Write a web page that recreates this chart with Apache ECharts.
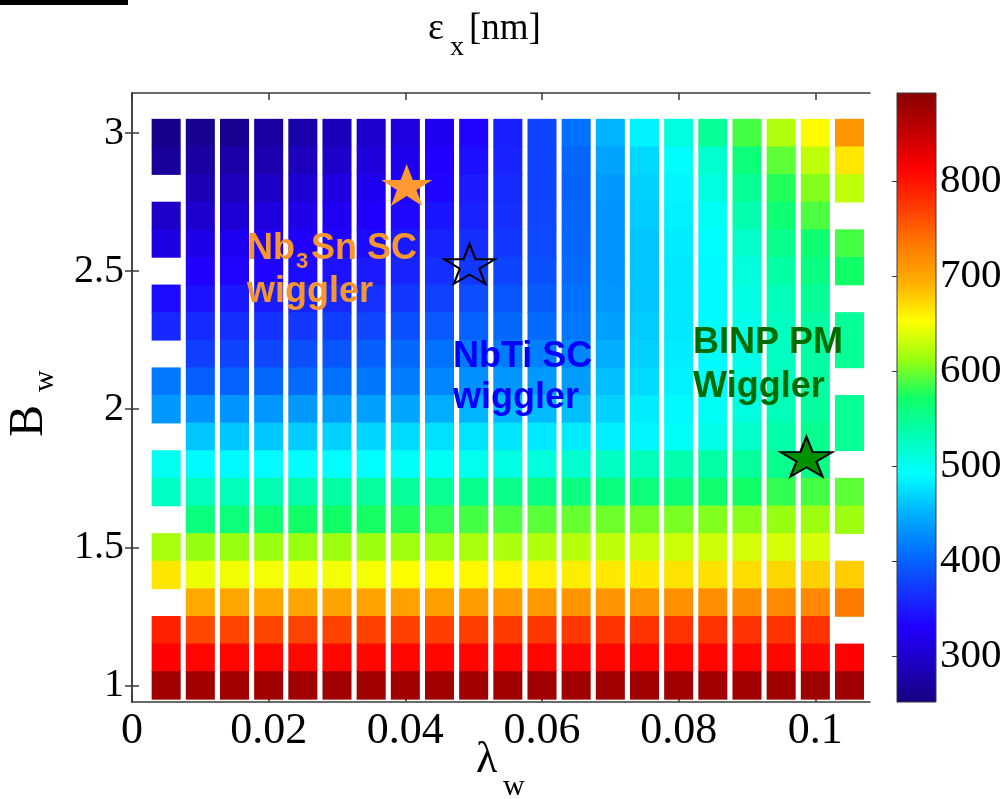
<!DOCTYPE html>
<html><head><meta charset="utf-8">
<script src="https://cdn.jsdelivr.net/npm/echarts@6/dist/echarts.min.js"></script>
<style>html,body{margin:0;padding:0;background:#fff}#c{width:1008px;height:799px}</style>
</head><body><div id="c"></div>
<script>
// ---- data ----
const lambdaW = [0.005,0.010,0.015,0.020,0.025,0.030,0.035,0.040,0.045,0.050,0.055,0.060,0.065,0.070,0.075,0.080,0.085,0.090,0.095,0.100,0.105];
const bW = [3.0,2.9,2.8,2.7,2.6,2.5,2.4,2.3,2.2,2.1,2.0,1.9,1.8,1.7,1.6,1.5,1.4,1.3,1.2,1.1,1.0];
// emittance [nm], one array per B_w row (columns follow lambdaW); null = no cell
const eps_B30 = [258,262,264,272,279,288,300,312,322,336,355,380,410,452,485,510,548,588,622,654,712];
const eps_B29 = [270,272,276,282,290,298,310,320,330,343,358,380,402,442,472,492,518,562,595,628,665];
const eps_B28 = [null,286,290,296,304,313,321,328,336,350,362,380,400,436,468,488,510,548,578,606,628];
const eps_B27 = [298,300,305,311,318,324,330,338,347,356,366,382,402,432,465,485,498,535,566,590,null];
const eps_B26 = [315,316,321,326,330,335,340,349,357,364,372,384,404,432,462,482,492,520,552,568,588];
const eps_B25 = [null,332,334,336,340,345,350,358,366,372,380,388,406,432,462,480,490,512,540,558,572];
const eps_B24 = [340,345,349,352,357,362,367,372,379,386,392,396,410,435,462,480,490,508,530,548,null];
const eps_B23 = [360,362,366,368,372,376,382,388,394,400,404,406,414,440,465,480,490,503,526,540,548];
const eps_B22 = [null,376,380,382,388,392,398,404,410,416,418,420,424,448,468,482,490,503,526,540,548];
const eps_B21 = [415,398,400,404,406,410,414,418,424,430,434,436,438,458,473,485,492,506,526,540,null];
const eps_B20 = [435,430,432,435,436,438,440,444,448,452,455,456,458,468,482,490,497,510,530,543,548];
const eps_B19 = [null,462,462,463,465,468,470,473,476,478,478,480,482,484,488,496,505,520,538,552,548];
const eps_B18 = [500,490,490,491,492,492,493,496,498,502,508,512,518,525,530,535,540,545,552,556,null];
const eps_B17 = [525,528,530,533,536,540,544,547,549,551,554,556,558,560,562,564,568,572,582,588,595];
const eps_B16 = [null,560,562,568,572,572,574,578,582,588,590,594,598,600,602,604,606,608,612,614,614];
const eps_B15 = [618,612,612,613,613,614,614,615,615,618,620,622,624,627,630,632,633,635,636,637,null];
const eps_B14 = [665,645,647,648,648,648,649,652,654,656,657,660,662,664,665,667,668,670,673,676,678];
const eps_B13 = [null,698,700,700,701,702,702,704,706,707,708,710,712,713,714,716,718,720,721,722,732];
const eps_B12 = [790,764,766,766,767,768,768,769,770,771,772,774,775,777,778,778,778,778,778,778,null];
const eps_B11 = [812,808,808,808,808,808,808,808,808,808,808,808,808,808,808,808,808,808,808,808,812];
const eps_B10 = [875,875,875,875,875,875,875,875,875,875,875,875,875,875,875,875,875,875,875,875,875];
const epsRows = [eps_B30,eps_B29,eps_B28,eps_B27,eps_B26,eps_B25,eps_B24,eps_B23,eps_B22,eps_B21,eps_B20,
                 eps_B19,eps_B18,eps_B17,eps_B16,eps_B15,eps_B14,eps_B13,eps_B12,eps_B11,eps_B10];

const xTicks = [0,0.02,0.04,0.06,0.08,0.1];
const xTickLabels = ['0','0.02','0.04','0.06','0.08','0.1'];
const yTicks = [1,1.5,2,2.5,3];
const yTickLabels = ['1','1.5','2','2.5','3'];
const cbTicks = [300,400,500,600,700,800];
const cbTickLabels = ['300','400','500','600','700','800'];
const cbMin = 252, cbMax = 893;

const starNb3Sn = [0.0402, 2.812];
const starNbTi  = [0.0494, 2.526];
const starBINP  = [0.0987, 1.828];

// ---- build ----
const jet = ['#170080','#1C00C0','#2000FF','#1238FF','#0074FF','#00B4FF','#00FFFF','#00FFB4','#10FF66',
             '#99FF10','#FFFF00','#FFB000','#FF7A00','#FF3A00','#FF0000','#C00000','#880000'];
const cells = [];
epsRows.forEach((row, r) => row.forEach((v, c) => { if (v !== null) cells.push([lambdaW[c], bW[r], v]); }));
const dL = lambdaW[1] - lambdaW[0];
const dB = bW[0] - bW[1];

const starPath = 'path://M50 0 L61.23 34.55 L97.55 34.55 L68.17 55.9 L79.39 90.45 L50 69.1 L20.61 90.45 L31.83 55.9 L2.45 34.55 L38.77 34.55 Z';
const SERIF = '"Liberation Serif", "Times New Roman", serif';
const SANS = '"Liberation Sans", Arial, sans-serif';
const AX = '#3a3a3a';

function txt(s, x, base, size, fam, color, weight, k) {
  return { type: 'text', x: x, y: base - (k || 0.34) * size, z: 100,
    style: { text: s, font: (weight || 'normal') + ' ' + size + 'px ' + fam, fill: color || '#000', verticalAlign: 'middle', align: 'left' } };
}
function fmt(ticks, labels) { return v => { const i = ticks.findIndex(t => Math.abs(t - v) < 1e-9); return i >= 0 ? labels[i] : ''; }; }

const chart = echarts.init(document.getElementById('c'), null, { renderer: 'canvas' });
const mainX = { min: 0, max: 0.108 };
const mainY = { min: 0.94, max: 3.145 };
const lineStyle = { color: AX, width: 1.5 };

chart.setOption({
  backgroundColor: '#fff',
  animation: false,
  grid: [
    { left: 132, top: 93, width: 738, height: 609 },
    { left: 897, top: 93, width: 39, height: 609 }
  ],
  xAxis: [
    { type: 'value', gridIndex: 0, position: 'bottom', min: mainX.min, max: mainX.max,
      axisLine: { show: true, lineStyle: lineStyle },
      axisTick: { show: true, inside: true, length: 7, lineStyle: lineStyle, customValues: xTicks },
      axisLabel: { show: true, customValues: xTicks, formatter: fmt(xTicks, xTickLabels), margin: 7,
                   fontFamily: SERIF, fontSize: 44, color: '#000' },
      splitLine: { show: false } },
    { type: 'value', gridIndex: 0, position: 'top', min: mainX.min, max: mainX.max,
      axisLine: { show: true, lineStyle: lineStyle },
      axisTick: { show: true, inside: true, length: 7, lineStyle: lineStyle, customValues: xTicks },
      axisLabel: { show: false }, splitLine: { show: false } },
    { type: 'value', gridIndex: 1, min: 0, max: 1, show: false }
  ],
  yAxis: [
    { type: 'value', gridIndex: 0, position: 'left', min: mainY.min, max: mainY.max,
      axisLine: { show: true, lineStyle: lineStyle },
      axisTick: { show: true, inside: true, length: 7, lineStyle: lineStyle, customValues: yTicks },
      axisLabel: { show: true, customValues: yTicks, formatter: fmt(yTicks, yTickLabels), margin: 8,
                   fontFamily: SERIF, fontSize: 40, color: '#000' },
      splitLine: { show: false } },
    { type: 'value', gridIndex: 0, position: 'right', min: mainY.min, max: mainY.max,
      axisLine: { show: true, lineStyle: lineStyle },
      axisTick: { show: true, inside: true, length: 7, lineStyle: lineStyle, customValues: yTicks },
      axisLabel: { show: false }, splitLine: { show: false } },
    { type: 'value', gridIndex: 1, position: 'right', min: cbMin, max: cbMax,
      axisLine: { show: true, lineStyle: { color: AX, width: 1 } },
      axisTick: { show: true, inside: true, length: 5, lineStyle: { color: AX, width: 1 }, customValues: cbTicks },
      axisLabel: { show: true, customValues: cbTicks, formatter: fmt(cbTicks, cbTickLabels), margin: 4,
                   fontFamily: SERIF, fontSize: 41, color: '#000' },
      splitLine: { show: false } },
    { type: 'value', gridIndex: 1, position: 'left', min: cbMin, max: cbMax,
      axisLine: { show: true, lineStyle: { color: AX, width: 1 } },
      axisTick: { show: true, inside: true, length: 5, lineStyle: { color: AX, width: 1 }, customValues: cbTicks },
      axisLabel: { show: false }, splitLine: { show: false } }
  ],
  visualMap: [{
    type: 'continuous', show: false, min: cbMin, max: cbMax, dimension: 2, seriesIndex: 0,
    inRange: { color: jet }
  }],
  series: [
    { type: 'custom', xAxisIndex: 0, yAxisIndex: 0, data: cells, encode: { x: 0, y: 1 }, z: 2,
      renderItem: function (params, api) {
        const c = api.coord([api.value(0), api.value(1)]);
        const s = api.size([dL, dB]);
        const w = s[0] * 0.85, h = s[1];
        return { type: 'rect', shape: { x: c[0] - w / 2, y: c[1] - h / 2 - 0.4, width: w, height: h + 0.8 },
                 style: { fill: api.visual('color') } };
      } },
    { type: 'scatter', xAxisIndex: 0, yAxisIndex: 0, data: [starNb3Sn], symbol: starPath, symbolSize: [51, 42],
      symbolKeepAspect: false, z: 5, itemStyle: { color: '#FF9A33', borderWidth: 0, opacity: 1 } },
    { type: 'scatter', xAxisIndex: 0, yAxisIndex: 0, data: [starNbTi], symbol: starPath, symbolSize: [51, 40],
      symbolKeepAspect: false, z: 5, itemStyle: { color: 'rgba(0,0,0,0)', borderColor: '#000', borderWidth: 2, opacity: 1 } },
    { type: 'scatter', xAxisIndex: 0, yAxisIndex: 0, data: [starBINP], symbol: starPath, symbolSize: [52, 40],
      symbolKeepAspect: false, z: 5, itemStyle: { color: '#009000', borderColor: '#000', borderWidth: 2, opacity: 1 } },
    { type: 'custom', xAxisIndex: 2, yAxisIndex: 2, data: [[0, cbMin, cbMax]], z: 2, silent: true,
      renderItem: function (params, api) {
        const p0 = api.coord([0, api.value(1)]);
        const p1 = api.coord([1, api.value(2)]);
        const stops = jet.map((col, i) => ({ offset: i / (jet.length - 1), color: col }));
        return { type: 'rect', shape: { x: p0[0], y: p1[1], width: p1[0] - p0[0], height: p0[1] - p1[1] },
                 style: { fill: new echarts.graphic.LinearGradient(0, 1, 0, 0, stops), stroke: AX, lineWidth: 1 } };
      } }
  ],
  graphic: { elements: [
    { type: 'rect', shape: { x: 0, y: 0, width: 128, height: 5 }, style: { fill: '#000' }, z: 100 },
    // title  ε_x [nm]
    txt('ε', 428, 42, 38, SERIF),
    txt('x', 450, 57, 28, SERIF),
    txt('[nm]', 469, 42, 37, SERIF),
    // x label  λ_w
    txt('λ', 476, 775, 44, SERIF),
    txt('w', 503, 797, 30, SERIF),
    // y label  B_w (rotated)
    { type: 'group', x: 46, y: 437, rotation: Math.PI / 2, z: 100, children: [
      { type: 'text', x: 0, y: -0.34 * 48, style: { text: 'B', font: '48px ' + SERIF, fill: '#000', verticalAlign: 'middle' } },
      { type: 'text', x: 45, y: 9 - 0.34 * 30, style: { text: 'w', font: '30px ' + SERIF, fill: '#000', verticalAlign: 'middle' } }
    ] },
    // annotations
    txt('Nb', 247, 262, 36, SANS, '#F7962F', 'bold', 0.35),
    txt('3', 296, 270, 22, SANS, '#F7962F', 'bold', 0.35),
    txt('Sn SC', 311, 262, 36, SANS, '#F7962F', 'bold', 0.35),
    txt('wiggler', 247, 305, 36, SANS, '#F7962F', 'bold', 0.35),
    txt('NbTi SC', 453, 370, 36, SANS, '#0000FF', 'bold', 0.35),
    txt('wiggler', 453, 411, 36, SANS, '#0000FF', 'bold', 0.35),
    txt('BINP PM', 693, 356, 36, SANS, '#006B00', 'bold', 0.35),
    txt('Wiggler', 693, 400, 36, SANS, '#006B00', 'bold', 0.35)
  ] }
});
</script>
</body></html>
